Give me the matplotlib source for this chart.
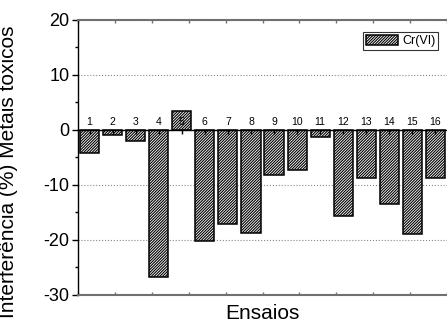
import numpy as np
import matplotlib
matplotlib.use("Agg")
import matplotlib.pyplot as plt

plt.rcParams['font.family'] = ['Liberation Sans', 'DejaVu Sans']
plt.rcParams['hatch.linewidth'] = 0.8
plt.rcParams['axes.unicode_minus'] = False

# data
ensaios = list(range(1, 17))
labels = [str(i) for i in ensaios]
cr_vi = [-4.1, -1.0, -2.0, -26.8, 3.4, -20.1, -17.1, -18.8,
         -8.1, -7.3, -1.3, -15.6, -8.8, -13.5, -18.9, -8.8]

fig = plt.figure(figsize=(4.47, 3.23), dpi=100)
ax = fig.add_axes([0.1745, 0.0867, 0.8255, 0.8514])

ax.bar(ensaios, cr_vi, width=0.83, facecolor='white', edgecolor='black',
       linewidth=1.1, hatch='/' * 12, label='Cr(VI)', zorder=2)

ax.set_xlim(0.5, 16.5)
ax.set_ylim(-30, 20)

# y axis
ax.set_yticks([-30, -20, -10, 0, 10, 20])
ax.set_yticks([-25, -15, -5, 5, 15], minor=True)
ax.tick_params(axis='y', which='major', direction='out', length=4, width=1, labelsize=13, pad=2)
ax.tick_params(axis='y', which='minor', direction='out', length=2, width=1)
ax.yaxis.grid(True, which='major', linestyle=':', color='#888888', linewidth=0.8)
ax.set_axisbelow(True)

# frame x axis (no labels, small gray ticks)
ax.set_xticks(np.linspace(0.5, 16.5, 11))
ax.set_xticklabels([])
ax.tick_params(axis='x', which='both', bottom=True, top=True, direction='in',
               length=2, width=1, color='#707070')
for side in ['top', 'bottom']:
    ax.spines[side].set_color('#707070')
    ax.spines[side].set_linewidth(1.5)
ax.spines['right'].set_visible(False)
ax.spines['left'].set_linewidth(1)

# zero line with numbered ticks
sec = ax.secondary_xaxis(0, transform=ax.transData)
sec.set_alignment('top')
sec.set_zorder(5)
sec.set_xticks(ensaios)
sec.set_xticklabels(labels)
sec.tick_params(axis='x', direction='in', length=3, width=1, labelsize=7.5, pad=2)
sec.spines['top'].set_linewidth(1)
sec.spines['bottom'].set_visible(False)

ax.set_xlabel('Ensaios', fontsize=15, labelpad=3)
ax.set_ylabel('Interferência (%) Metais toxicos', fontsize=15)
ax.yaxis.set_label_coords(-0.163, 0.447)

leg = ax.legend(loc='upper right', fontsize=9, frameon=True, fancybox=False,
                edgecolor='black', borderpad=0.2, handlelength=2.6, handleheight=0.9,
                handletextpad=0.3, borderaxespad=0.0, bbox_to_anchor=(0.975, 0.955))
leg.get_frame().set_linewidth(0.8)

fig.savefig('out.png', dpi=100)
